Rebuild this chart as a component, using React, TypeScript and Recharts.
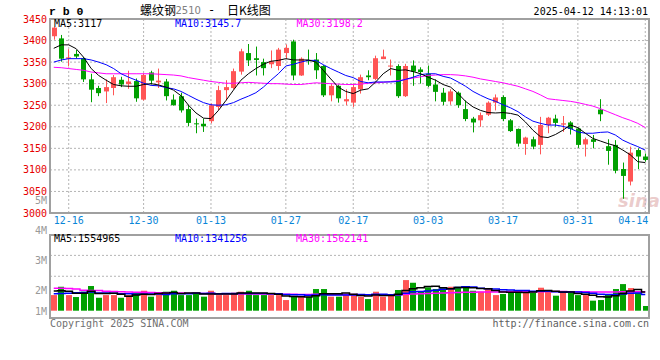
import { Bar, CartesianGrid, ComposedChart, Line, XAxis, YAxis } from "recharts";

const MONO = '"DejaVu Sans Mono", monospace';
const CJK = '"Noto Sans CJK SC", sans-serif';
const UP = "#ff5555";
const DOWN = "#00a000";
const GRID = "#b4b4b4";
const FRAME = "#a0a0a0";

const dates = [
  "12-12", "12-13", "12-16", "12-17", "12-18", "12-19", "12-20", "12-23", "12-24", "12-25",
  "12-26", "12-27", "12-30", "12-31", "01-02", "01-03", "01-06", "01-07", "01-08", "01-09",
  "01-10", "01-13", "01-14", "01-15", "01-16", "01-17", "01-20", "01-21", "01-22", "01-23",
  "01-24", "01-27", "02-05", "02-06", "02-07", "02-10", "02-11", "02-12", "02-13", "02-14",
  "02-17", "02-18", "02-19", "02-20", "02-21", "02-24", "02-25", "02-26", "02-27", "02-28",
  "03-03", "03-04", "03-05", "03-06", "03-07", "03-10", "03-11", "03-12", "03-13", "03-14",
  "03-17", "03-18", "03-19", "03-20", "03-21", "03-24", "03-25", "03-26", "03-27", "03-28",
  "03-31", "04-01", "04-02", "04-03", "04-07", "04-08", "04-09", "04-10", "04-11", "04-14",
];

const opens = [
  3410, 3405, 3358, 3369, 3359, 3310, 3290, 3282, 3290, 3309,
  3299, 3306, 3263, 3326, 3303, 3305, 3263, 3271, 3241, 3208,
  3207, 3213, 3246, 3285, 3290, 3328, 3371, 3359, 3350, 3345,
  3341, 3371, 3398, 3319, 3355, 3356, 3341, 3273, 3295, 3259,
  3256, 3287, 3319, 3311, 3357, 3340, 3341, 3271, 3342, 3333,
  3323, 3298, 3279, 3259, 3279, 3241, 3219, 3215, 3228, 3256,
  3269, 3215, 3195, 3160, 3171, 3158, 3204, 3219, 3205, 3210,
  3196, 3159, 3171, 3240, 3155, 3158, 3102, 3073, 3146, 3131,
];
const highs = [
  3432, 3413, 3380, 3378, 3362, 3323, 3295, 3310, 3320, 3316,
  3330, 3312, 3324, 3330, 3335, 3311, 3275, 3279, 3251, 3219,
  3219, 3254, 3295, 3308, 3335, 3381, 3392, 3386, 3358, 3377,
  3383, 3391, 3402, 3361, 3379, 3371, 3343, 3300, 3298, 3287,
  3300, 3321, 3331, 3365, 3379, 3356, 3345, 3346, 3354, 3338,
  3342, 3310, 3290, 3287, 3282, 3261, 3223, 3233, 3259, 3275,
  3273, 3218, 3196, 3177, 3177, 3223, 3223, 3228, 3225, 3213,
  3198, 3175, 3181, 3264, 3171, 3169, 3117, 3154, 3150, 3138,
];
const lows = [
  3402, 3351, 3340, 3358, 3304, 3257, 3271, 3255, 3273, 3292,
  3288, 3258, 3261, 3298, 3290, 3261, 3249, 3233, 3201, 3185,
  3188, 3208, 3238, 3261, 3287, 3321, 3341, 3319, 3319, 3336,
  3331, 3358, 3308, 3318, 3344, 3311, 3269, 3259, 3256, 3250,
  3246, 3277, 3308, 3308, 3357, 3319, 3267, 3269, 3295, 3300,
  3292, 3259, 3250, 3251, 3244, 3213, 3187, 3200, 3225, 3238,
  3213, 3188, 3154, 3135, 3148, 3136, 3185, 3200, 3188, 3182,
  3151, 3131, 3150, 3213, 3112, 3092, 3033, 3064, 3102, 3119,
];
const closes = [
  3430, 3358, 3361, 3363, 3310, 3286, 3278, 3292, 3315, 3298,
  3305, 3266, 3320, 3307, 3307, 3271, 3250, 3238, 3209, 3206,
  3201, 3250, 3285, 3292, 3329, 3375, 3354, 3355, 3336, 3352,
  3379, 3383, 3319, 3358, 3352, 3331, 3273, 3295, 3266, 3264,
  3292, 3315, 3315, 3359, 3363, 3342, 3271, 3341, 3328, 3327,
  3295, 3281, 3258, 3282, 3250, 3218, 3210, 3227, 3256, 3268,
  3218, 3190, 3161, 3175, 3154, 3204, 3221, 3209, 3208, 3195,
  3158, 3171, 3165, 3229, 3144, 3098, 3086, 3140, 3131, 3123,
];

const ma5 = [
  3382, 3390, 3390, 3381, 3361, 3335, 3319, 3308, 3298, 3295,
  3294, 3294, 3298, 3300, 3297, 3292, 3285, 3272, 3250, 3232,
  3220, 3219, 3238, 3261, 3285, 3308, 3323, 3335, 3345, 3352,
  3354, 3358, 3355, 3355, 3355, 3350, 3331, 3311, 3292, 3282,
  3277, 3285, 3288, 3304, 3323, 3335, 3331, 3332, 3328, 3323,
  3315, 3308, 3298, 3292, 3277, 3259, 3246, 3238, 3233, 3232,
  3233, 3231, 3227, 3211, 3192, 3177, 3175, 3182, 3192, 3204,
  3198, 3185, 3173, 3167, 3161, 3156, 3146, 3135, 3119, 3117,
];
const ma10 = [
  3350, 3355, 3358, 3358, 3358, 3355, 3350, 3344, 3335, 3323,
  3315, 3308, 3301, 3296, 3295, 3291, 3288, 3282, 3273, 3264,
  3256, 3251, 3250, 3251, 3256, 3264, 3271, 3279, 3292, 3308,
  3323, 3341, 3345, 3350, 3354, 3354, 3344, 3335, 3327, 3319,
  3314, 3305, 3302, 3304, 3304, 3304, 3305, 3310, 3315, 3321,
  3323, 3323, 3317, 3313, 3304, 3294, 3282, 3273, 3265, 3259,
  3251, 3244, 3235, 3223, 3213, 3208, 3204, 3204, 3201, 3196,
  3188, 3185, 3185, 3187, 3188, 3181, 3169, 3161, 3154, 3145.7,
];
const ma30 = [
  3338, 3337, 3335, 3333, 3331, 3327, 3325, 3323, 3323, 3323,
  3323, 3323, 3323, 3323, 3322, 3321, 3320, 3318, 3314, 3311,
  3308, 3305, 3303, 3301, 3301, 3302, 3303, 3302, 3301, 3300,
  3300, 3299, 3298, 3298, 3300, 3302, 3301, 3300, 3299, 3298,
  3298, 3299, 3301, 3302, 3303, 3305, 3307, 3310, 3313, 3316,
  3319, 3320, 3321, 3321, 3320, 3318, 3315, 3311, 3308, 3305,
  3302, 3298, 3294, 3288, 3282, 3274, 3265, 3263, 3261, 3259,
  3256, 3252, 3248, 3242, 3235, 3228, 3221, 3215, 3208, 3198.2,
];

const volumes = [
  1290000, 1980000, 1290000, 1130000, 1570000, 2040000, 1070000, 1290000, 1290000, 1070000,
  1290000, 1490000, 1650000, 1160000, 1490000, 1570000, 1650000, 1290000, 1290000, 1490000,
  1160000, 1650000, 1290000, 1290000, 1490000, 1570000, 1650000, 1290000, 1290000, 1290000,
  1290000, 880000, 1160000, 1160000, 1160000, 1790000, 1790000, 1160000, 1160000, 1380000,
  1380000, 1160000, 960000, 1570000, 1160000, 1380000, 1710000, 2530000, 2310000, 1570000,
  1930000, 1790000, 1850000, 1980000, 1980000, 1980000, 1650000, 1570000, 1850000, 1290000,
  1380000, 1570000, 1570000, 1710000, 1490000, 1900000, 1650000, 1240000, 1490000, 1490000,
  1290000, 1290000, 830000, 880000, 1380000, 1790000, 2200000, 1870000, 1490000, 390000,
];
const volMa5 = [
  1630000, 1650000, 1600000, 1450000, 1450000, 1600000, 1420000, 1420000, 1450000, 1350000,
  1200000, 1290000, 1360000, 1330000, 1420000, 1470000, 1500000, 1430000, 1460000, 1460000,
  1380000, 1380000, 1380000, 1380000, 1380000, 1460000, 1460000, 1460000, 1460000, 1420000,
  1360000, 1210000, 1180000, 1160000, 1130000, 1230000, 1410000, 1410000, 1410000, 1460000,
  1370000, 1250000, 1210000, 1290000, 1250000, 1250000, 1360000, 1670000, 1820000, 1900000,
  2010000, 2030000, 1890000, 1820000, 1910000, 1920000, 1890000, 1830000, 1810000, 1670000,
  1550000, 1530000, 1530000, 1500000, 1540000, 1650000, 1660000, 1600000, 1550000, 1550000,
  1430000, 1360000, 1280000, 1160000, 1130000, 1230000, 1420000, 1620000, 1750000, 1554965,
];
const volMa10 = [
  1400000, 1420000, 1450000, 1480000, 1500000, 1550000, 1460000, 1460000, 1450000, 1400000,
  1400000, 1360000, 1390000, 1390000, 1390000, 1340000, 1400000, 1400000, 1400000, 1440000,
  1430000, 1440000, 1410000, 1420000, 1420000, 1420000, 1420000, 1420000, 1420000, 1400000,
  1410000, 1340000, 1320000, 1310000, 1280000, 1300000, 1310000, 1300000, 1290000, 1300000,
  1300000, 1330000, 1310000, 1350000, 1360000, 1310000, 1310000, 1440000, 1560000, 1580000,
  1630000, 1700000, 1780000, 1820000, 1910000, 1970000, 1960000, 1860000, 1820000, 1790000,
  1740000, 1710000, 1680000, 1660000, 1610000, 1600000, 1600000, 1570000, 1530000, 1550000,
  1540000, 1510000, 1440000, 1360000, 1340000, 1330000, 1390000, 1450000, 1460000, 1341256,
];
const volMa30 = [
  1850000, 1850000, 1840000, 1800000, 1700000, 1680000, 1660000, 1600000, 1580000, 1570000,
  1550000, 1530000, 1520000, 1500000, 1490000, 1480000, 1470000, 1460000, 1450000, 1440000,
  1430000, 1420000, 1410000, 1410000, 1400000, 1400000, 1390000, 1390000, 1380000, 1380000,
  1370000, 1360000, 1350000, 1340000, 1340000, 1350000, 1350000, 1340000, 1330000, 1330000,
  1330000, 1320000, 1310000, 1310000, 1300000, 1310000, 1320000, 1350000, 1380000, 1400000,
  1420000, 1440000, 1460000, 1480000, 1500000, 1520000, 1530000, 1540000, 1550000, 1550000,
  1560000, 1560000, 1560000, 1570000, 1570000, 1570000, 1580000, 1580000, 1580000, 1570000,
  1570000, 1560000, 1550000, 1550000, 1550000, 1550000, 1560000, 1560000, 1560000, 1562141,
];

const dateTicks = ["12-16", "12-30", "01-13", "01-27", "02-17", "03-03", "03-17", "03-31", "04-14"];
const priceTicks = [3000, 3050, 3100, 3150, 3200, 3250, 3300, 3350, 3400, 3450];
const volTicks = [1000000, 2000000, 3000000, 4000000, 5000000];

const rows = dates.map((date, i) => ({
  date,
  open: opens[i],
  high: highs[i],
  low: lows[i],
  close: closes[i],
  range: [lows[i], highs[i]],
  ma5: ma5[i],
  ma10: ma10[i],
  ma30: ma30[i],
  vol: volumes[i],
  vma5: volMa5[i],
  vma10: volMa10[i],
  vma30: volMa30[i],
}));

const last = (arr: number[]) => arr[arr.length - 1];

// price panel svg 0..232, volume panel svg 190..340
const PRICE_H = 232;
const VOL_TOP = 190;
const VOL_H = 150;
const VOL_MARGIN = { top: 44.5, right: 11, bottom: 22, left: 0 };

function Candle(props: any) {
  const { x, y, width, height, payload } = props;
  const { open, close, high, low } = payload;
  const k = height / (high - low || 1);
  const yOf = (v: number) => y + (high - v) * k;
  const color = close >= open ? UP : DOWN;
  const cx = Math.round(x + width / 2);
  const w = Math.round(width);
  const top = yOf(Math.max(open, close));
  const bottom = yOf(Math.min(open, close));
  return (
    <g>
      <line x1={cx + 0.5} x2={cx + 0.5} y1={y} y2={y + height} stroke={color} strokeWidth={1} />
      <rect x={cx - Math.floor(w / 2)} y={top} width={w} height={Math.max(1, bottom - top)} fill={color} />
    </g>
  );
}

function VolBar(props: any) {
  const { x, y, width, height, payload } = props;
  const w = Math.round(width);
  const left = Math.round(x + width / 2 - w / 2);
  return <rect x={left} y={y} width={w} height={height} fill={payload.close >= payload.open ? UP : DOWN} />;
}

function DateTick({ x, y, payload }: any) {
  const isLast = payload.value === dateTicks[dateTicks.length - 1];
  return (
    <text
      x={isLast ? x + 3 : x}
      y={y}
      dy="0.71em"
      textAnchor={isLast ? "end" : "middle"}
      fill="#0a86d8"
      fontSize={10}
      fontFamily={MONO}
    >
      {payload.value}
    </text>
  );
}

function VolTick({ x, y, payload }: any) {
  // keep the label inside the panel, the way the source does
  const cy = Math.min(y, VOL_H - VOL_MARGIN.bottom - 7);
  return (
    <text x={x} y={cy} dy="0.355em" textAnchor="end" fill="#999" fontSize={10} fontFamily={MONO}>
      {payload.value / 1000000}M
    </text>
  );
}

function Txt({ x, y, color = "#000", size = 10, font = MONO, right = false, weight, children }: any) {
  const style: any = {
    position: "absolute",
    top: y - (size + 2) / 2,
    fontSize: size,
    lineHeight: `${size + 2}px`,
    color,
    fontFamily: font,
    fontWeight: weight,
    whiteSpace: "pre",
  };
  if (right) style.right = 660 - x;
  else style.left = x;
  return <div style={style}>{children}</div>;
}

export default function App() {
  return (
    <div style={{ position: "fixed", left: 0, top: 0, width: 660, height: 360, background: "#fff", overflow: "hidden" }}>
      <div
        style={{
          position: "absolute",
          left: 618,
          top: 190,
          fontSize: 18,
          fontStyle: "italic",
          fontWeight: 700,
          fontFamily: '"DejaVu Sans", sans-serif',
          color: "rgba(210,140,140,0.45)",
        }}
      >
        sina
      </div>

      <div style={{ position: "absolute", left: 0, top: 0 }}>
        <ComposedChart width={660} height={PRICE_H} data={rows} margin={{ top: 19, right: 11, bottom: 0, left: 0 }}>
          <CartesianGrid stroke={GRID} strokeDasharray="2 2" />
          <XAxis
            dataKey="date"
            ticks={dateTicks}
            interval={0}
            height={19}
            tickSize={0}
            tickMargin={4}
            axisLine={false}
            tick={<DateTick />}
          />
          <YAxis
            domain={[3000, 3450]}
            allowDataOverflow
            ticks={priceTicks}
            interval={0}
            width={50}
            tickSize={0}
            tickMargin={3}
            axisLine={false}
            tick={{ fill: "#e60000", fontSize: 10, fontFamily: MONO }}
          />
          <Bar dataKey="range" barSize={5} shape={<Candle />} isAnimationActive={false} />
          <Line dataKey="ma30" stroke="#ff00ff" strokeWidth={1} dot={false} activeDot={false} isAnimationActive={false} />
          <Line dataKey="ma10" stroke="#0000ff" strokeWidth={1} dot={false} activeDot={false} isAnimationActive={false} />
          <Line dataKey="ma5" stroke="#000" strokeWidth={1} dot={false} activeDot={false} isAnimationActive={false} />
        </ComposedChart>
      </div>

      <div style={{ position: "absolute", left: 0, top: VOL_TOP }}>
        <ComposedChart width={660} height={VOL_H} data={rows} margin={VOL_MARGIN}>
          <CartesianGrid
            yAxisId="vol"
            stroke={GRID}
            strokeDasharray="2 2"
            horizontalCoordinatesGenerator={({ offset }: any) => [
              offset.top + offset.height / 4,
              offset.top + offset.height / 2,
            ]}
          />
          <XAxis dataKey="date" ticks={dateTicks} interval={0} height={0} tick={false} tickLine={false} axisLine={false} />
          <YAxis yAxisId="vol" hide domain={[-603000, 6298000]} allowDataOverflow />
          <YAxis
            yAxisId="lbl"
            domain={[1096000, 3861000]}
            allowDataOverflow
            ticks={volTicks}
            interval={0}
            width={50}
            tickSize={0}
            tickMargin={3}
            axisLine={false}
            tick={<VolTick />}
          />
          <Bar yAxisId="vol" dataKey="vol" barSize={6} shape={<VolBar />} isAnimationActive={false} />
          <Line yAxisId="vol" type="step" dataKey="vma30" stroke="#ff00ff" strokeWidth={1.5} dot={false} activeDot={false} isAnimationActive={false} />
          <Line yAxisId="vol" type="step" dataKey="vma10" stroke="#0000ff" strokeWidth={1.5} dot={false} activeDot={false} isAnimationActive={false} />
          <Line yAxisId="vol" type="step" dataKey="vma5" stroke="#000" strokeWidth={1.5} dot={false} activeDot={false} isAnimationActive={false} />
        </ComposedChart>
      </div>

      {/* panel frames */}
      <div style={{ position: "absolute", left: 49, top: 18, width: 601, height: 196, boxSizing: "border-box", border: `2px solid ${FRAME}` }} />
      <div style={{ position: "absolute", left: 49, top: 233.5, width: 601, height: 85.5, boxSizing: "border-box", border: `2px solid ${FRAME}` }} />

      <Txt x={49} y={11.5} size={11.5} font='"Liberation Mono", monospace' weight={700}>r b 0</Txt>
      <Txt x={140} y={9.5} size={12} font={CJK}>螺纹钢</Txt>
      <Txt x={175.5} y={10.5} size={10} color="#808080" font='"DejaVu Sans", sans-serif'>2510</Txt>
      <Txt x={208} y={9.5} size={12} font={MONO}>-</Txt>
      <Txt x={227} y={9.5} size={12} font={CJK}>日K线图</Txt>
      <Txt x={648} y={11.5} right>2025-04-12 14:13:01</Txt>

      <Txt x={54} y={23.5}>MA5:{last(ma5)}</Txt>
      <Txt x={175} y={23.5} color="#0000ff">MA10:{last(ma10)}</Txt>
      <Txt x={296.5} y={23.5} color="#ff00ff">MA30:{last(ma30)}</Txt>

      <Txt x={54} y={238.5}>MA5:{last(volMa5)}</Txt>
      <Txt x={175} y={238.5} color="#0000ff">MA10:{last(volMa10)}</Txt>
      <Txt x={296} y={238.5} color="#ff00ff">MA30:{last(volMa30)}</Txt>

      <Txt x={50} y={323.5} color="#707070">Copyright 2025 SINA.COM</Txt>
      <Txt x={649} y={324} color="#606060" right>http://finance.sina.com.cn</Txt>
    </div>
  );
}
